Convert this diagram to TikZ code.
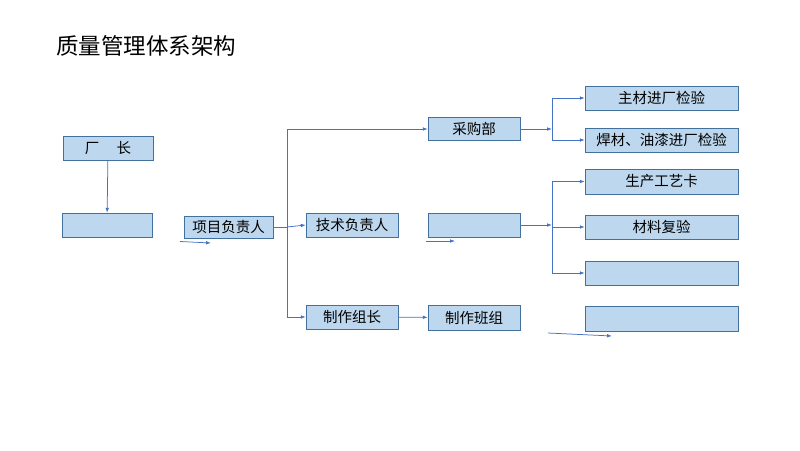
\documentclass[tikz,border=0pt]{standalone}
\usepackage{fontspec}
\setmainfont{Noto Sans CJK SC}
\usetikzlibrary{arrows.meta}
\definecolor{boxfill}{RGB}{189,215,238}
\definecolor{boxline}{RGB}{65,113,156}
\definecolor{linkblue}{RGB}{68,114,196}

\begin{document}
\begin{tikzpicture}[
        x=1pt, y=-1pt, % pixel-like grid, y going down
        box/.style={draw=boxline, fill=boxfill, minimum width=90pt, minimum height=24pt, inner sep=0pt, font=\fontsize{14.5}{16}\selectfont}, % box style
        widebox/.style={box, minimum width=153pt}, % right column
        link/.style={draw=linkblue, line width=0.75pt}, % plain line
        arrow/.style={link, -{Latex[length=5pt,width=3.6pt]}} % arrow style
    ]
    \useasboundingbox (0,0) rectangle (800,450);

    % Title
    \node (title) [anchor=west, inner sep=0pt, font=\fontsize{22.5}{26}\selectfont] at (56,46) {质量管理体系架构};

    % Left column
    \node (cz) [box] at (108,148) {厂\hspace{1.2em}长};
    \node (blank1) [box] at (107,225) {};
    \node (xmfzr) [box, minimum width=89pt, minimum height=22pt] at (228.5,227) {项目负责人};

    % Middle columns
    \node (cgb) [box, minimum width=92pt, minimum height=23pt] at (474,129) {采购部};
    \node (jsfzr) [box, minimum width=92pt] at (352,225) {技术负责人};
    \node (blank2) [box, minimum width=92pt] at (474,225) {};
    \node (zzzz) [box, minimum width=92pt] at (352,317) {制作组长};
    \node (zzbz) [box, minimum width=92pt, minimum height=25pt] at (474,317.5) {制作班组};

    % Right column
    \node (zcjc) [widebox] at (661.5,98) {主材进厂检验};
    \node (hcjc) [widebox] at (661.5,140) {焊材、油漆进厂检验};
    \node (gyk) [widebox, minimum height=25pt] at (661.5,181.5) {生产工艺卡};
    \node (clfy) [widebox] at (661.5,227) {材料复验};
    \node (blank3) [widebox] at (661.5,273) {};
    \node (blank4) [widebox, minimum height=25pt] at (661.5,318.5) {};

    % Branch points
    \coordinate (bus1) at (287,227);
    \coordinate (bus2) at (552,129);
    \coordinate (bus3) at (552,225);

    % Loose arrows
    \coordinate (la1) at (180,241.5);
    \coordinate (lb1) at (211,243);
    \coordinate (la2) at (426,241);
    \coordinate (lb2) at (455,241);
    \coordinate (la3) at (548,333);
    \coordinate (lb3) at (612,336);

    % Connections
    \draw[arrow] (cz) -- (blank1);
    \draw[link] (xmfzr.east) -- (bus1);
    \draw[arrow] (bus1) -- (jsfzr.west);
    \draw[arrow] (bus1) |- (cgb.west);
    \draw[arrow] (bus1) |- (zzzz.west);
    \draw[arrow] (zzzz) -- (zzbz);

    \draw[arrow] (cgb.east) -- (bus2);
    \draw[arrow] (bus2) |- (zcjc.west);
    \draw[arrow] (bus2) |- (hcjc.west);

    \draw[arrow] (blank2.east) -- (bus3);
    \draw[arrow] (bus3) |- (gyk.west);
    \draw[arrow] (bus3) |- (clfy.west);
    \draw[arrow] (bus3) |- (blank3.west);

    \draw[arrow] (la1) -- (lb1);
    \draw[arrow] (la2) -- (lb2);
    \draw[arrow] (la3) -- (lb3);

\end{tikzpicture}
\end{document}
